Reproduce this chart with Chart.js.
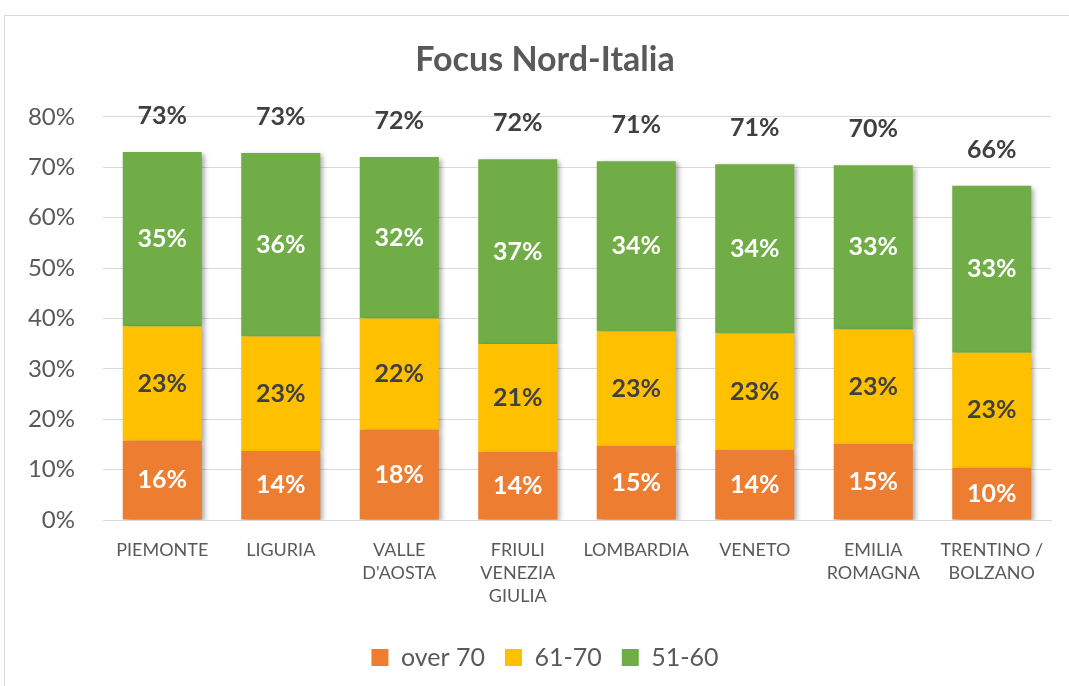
<!DOCTYPE html>
<html>
<head>
<meta charset="utf-8">
<script src="https://cdn.jsdelivr.net/npm/chart.js@4"></script>
<style>
  html, body { margin: 0; padding: 0; background: #fff; overflow: hidden; }
  #frame { position: absolute; left: 4px; top: 15px; width: 1100px; height: 700px; border: 1px solid #d9d9d9; box-sizing: border-box; }
  #wrap { position: absolute; left: 0; top: 0; width: 1090px; height: 686px; }
</style>
</head>
<body>
<div id="frame"></div>
<div id="wrap"><canvas id="chart"></canvas></div>
<script>
// ── data ──
const regions = ['PIEMONTE', 'LIGURIA', ["VALLE", "D'AOSTA"], ['FRIULI', 'VENEZIA', 'GIULIA'], 'LOMBARDIA', 'VENETO', ['EMILIA', 'ROMAGNA'], ['TRENTINO /', 'BOLZANO']];
const over70 = [15.7, 13.7, 17.9, 13.5, 14.7, 13.9, 15.1, 10.3];
const age6170 = [22.7, 22.7, 22.1, 21.4, 22.7, 23.1, 22.7, 22.9];
const age5160 = [34.6, 36.4, 32.0, 36.7, 33.8, 33.6, 32.6, 33.1];
const seriesNames = ['over 70', '61-70', '51-60'];
const yTicks = [0, 10, 20, 30, 40, 50, 60, 70, 80];

const FONT = 'Lato, "Open Sans", sans-serif';
const GREY = '#595959';
const LABEL_COLORS = ['#ffffff', '#404040', '#ffffff'];

// bar shadow
const shadowPlugin = {
  id: 'barShadow',
  beforeDatasetsDraw(chart) {
    const c = chart.ctx;
    c.save();
    c.shadowColor = 'rgba(0,0,0,0.35)';
    c.shadowBlur = 5;
    c.shadowOffsetX = 3;
    c.shadowOffsetY = 2;
  },
  afterDatasetsDraw(chart) {
    chart.ctx.restore();
  }
};

// segment + total labels
const labelPlugin = {
  id: 'barLabels',
  afterDatasetsDraw(chart) {
    const c = chart.ctx;
    c.save();
    c.textAlign = 'center';
    c.textBaseline = 'middle';
    c.font = 'bold 25px ' + FONT;
    chart.data.datasets.forEach((ds, di) => {
      const meta = chart.getDatasetMeta(di);
      c.fillStyle = LABEL_COLORS[di];
      meta.data.forEach((bar, i) => {
        c.fillText(Math.round(ds.data[i]) + '%', bar.x, (bar.y + bar.base) / 2);
      });
    });
    // totals
    const top = chart.getDatasetMeta(chart.data.datasets.length - 1);
    c.fillStyle = '#404040';
    top.data.forEach((bar, i) => {
      const tot = chart.data.datasets.reduce((s, ds) => s + ds.data[i], 0);
      c.fillText(Math.round(tot) + '%', bar.x, bar.y - 36);
    });
    c.restore();
  }
};

const mk = (label, data, color) => ({
  label, data,
  backgroundColor: color,
  borderWidth: 0,
  barPercentage: 0.667,
  categoryPercentage: 1
});

new Chart(document.getElementById('chart'), {
  type: 'bar',
  data: {
    labels: regions,
    datasets: [
      mk(seriesNames[0], over70, '#ed7d31'),
      mk(seriesNames[1], age6170, '#ffc000'),
      mk(seriesNames[2], age5160, '#70ad47')
    ]
  },
  options: {
    responsive: true, maintainAspectRatio: false,
    animation: false,
    layout: { padding: { left: 0, right: 0, top: 0, bottom: 6 } },
    plugins: {
      title: {
        display: true,
        text: 'Focus Nord-Italia',
        color: GREY,
        font: { family: FONT, size: 34, weight: 'bold' },
        padding: { top: 40, bottom: 36 }
      },
      legend: {
        position: 'bottom',
        labels: {
          color: GREY,
          font: { family: FONT, size: 25 },
          boxWidth: 17, boxHeight: 17,
          padding: 20
        }
      },
      tooltip: { enabled: false }
    },
    scales: {
      x: {
        stacked: true,
        grid: { display: false },
        border: { color: '#d9d9d9' },
        afterFit: axis => { axis.height = 105; },
        ticks: { color: GREY, font: { family: FONT, size: 18, lineHeight: 1.3 }, maxRotation: 0, autoSkip: false, padding: 10 }
      },
      y: {
        stacked: true,
        min: 0, max: 80,
        afterBuildTicks: axis => { axis.ticks = yTicks.map(v => ({ value: v })); },
        afterFit: axis => { axis.width = 103; },
        grid: { color: '#d9d9d9', drawTicks: false },
        border: { display: false },
        ticks: { color: GREY, font: { family: FONT, size: 24 }, padding: 28, callback: v => v + '%' }
      },
      // empty right margin so title and legend centre on the whole frame
      yRight: {
        position: 'right',
        afterFit: axis => { axis.width = 39; },
        grid: { display: false },
        border: { display: false },
        ticks: { display: false }
      }
    }
  },
  plugins: [shadowPlugin, labelPlugin]
});
</script>
</body>
</html>
